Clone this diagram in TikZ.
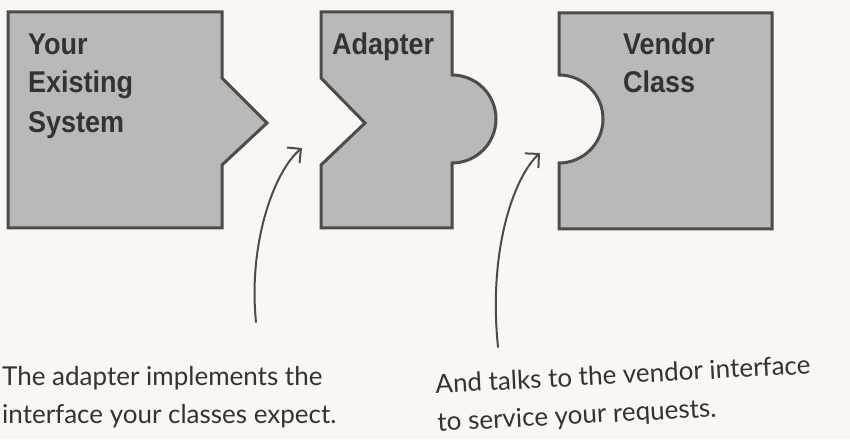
\documentclass[tikz,border=0pt]{standalone}
\usepackage{fontspec}
\setmainfont{Liberation Sans}
\newfontfamily\boxfont[FakeStretch=0.9]{Liberation Sans}
\newfontfamily\handfont{Lato}
\usetikzlibrary{arrows.meta}
\definecolor{bgc}{HTML}{FAF6F4}
\definecolor{boxfill}{HTML}{B9B9B9}
\definecolor{boxline}{HTML}{4C4C4C}
\definecolor{ink}{HTML}{333333}
\tikzset{
  piece/.style={fill=boxfill, draw=boxline, line width=3pt, line join=miter},
  boxtext/.style={anchor=base west, inner sep=0pt, text=ink, font=\boxfont\bfseries\fontsize{30}{36}\selectfont},
  handtext/.style={inner sep=0pt, text=ink, align=left, font=\handfont\fontsize{26}{38}\selectfont},
  pointer/.style={draw=boxline, line width=2pt, line cap=round, -{Straight Barb[length=10pt,width=20pt,line width=2pt]}}
}
\begin{document}
\begin{tikzpicture}[x=1pt,y=1pt]
\useasboundingbox (0,0) rectangle (850,439);
\fill[bgc] (0,0) rectangle (850,439);
% Your Existing System
\draw[piece] (8,427) -- (222,427) -- (222,361) -- (267,316) -- (222,274) -- (222,211) -- (8,211) -- cycle;
% Adapter
\draw[piece] (321,427) -- (452,427) -- (452,364) arc[start angle=90, end angle=-90, radius=44] -- (452,211) -- (321,211) -- (321,274) -- (365,316) -- (321,361) -- cycle;
% Vendor Class
\draw[piece] (559,426) -- (772,426) -- (772,210) -- (559,210) -- (559,276) arc[start angle=-90, end angle=90, radius=44] -- cycle;
% box labels
\node[boxtext] (your) at (28,384) {Your};
\node[boxtext] (existing) at (28,346) {Existing};
\node[boxtext] (system) at (28,306) {System};
\node[boxtext] (adapter) at (332,384) {Adapter};
\node[boxtext] (vendor) at (623,384) {Vendor};
\node[boxtext] (class) at (623,346) {Class};
% annotations
\node[handtext, anchor=south west] (note1) at (2,11) {The adapter implements the\\interface your classes expect.};
\node[handtext, anchor=south west, rotate=3] (note2) at (438,3) {And talks to the vendor interface\\to service your requests.};
% arrows
\coordinate (a1s) at (256,117);
\coordinate (a1e) at (302,291);
\coordinate (a2s) at (498,92);
\coordinate (a2e) at (540,286);
\draw[pointer] (a1s) .. controls (248,195) and (274,268) .. (a1e);
\draw[pointer] (a2s) .. controls (488,189) and (514,262) .. (a2e);
\end{tikzpicture}
\end{document}
